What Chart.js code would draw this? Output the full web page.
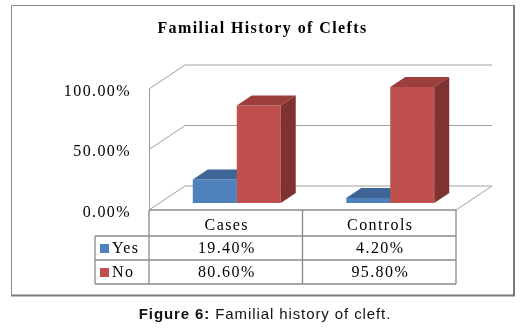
<!DOCTYPE html>
<html>
<head>
<meta charset="utf-8">
<script src="https://cdn.jsdelivr.net/npm/chart.js@4.4.1/dist/chart.umd.min.js"></script>
<style>
  html, body { margin: 0; padding: 0; background: #fff; }
  #wrap { position: relative; width: 521px; height: 336px; overflow: hidden; }
  #chart { position: absolute; left: 0; top: 0; }
  #caption {
    position: absolute; left: 0; top: 305px; width: 530px;
    text-align: center; color: #111;
    font: 15px "Liberation Sans", Arial, sans-serif; letter-spacing: 0.9px;
  }
</style>
</head>
<body>
<div id="wrap">
  <canvas id="chart" width="521" height="336"></canvas>
  <div id="caption"><b>Figure 6:</b> Familial history of cleft.</div>
</div>
<script>
// ---- data ----
const categories = ['Cases', 'Controls'];
const seriesNames = ['Yes', 'No'];
const yesValues = [19.4, 4.2];
const noValues = [80.6, 95.8];
const yTicks = [0, 50, 100];

// ---- styles ----
const SERIF = '"Liberation Serif", "Times New Roman", serif';
const frontColors = ['#4F81BD', '#C0504D'];
const topColors = ['#3E6596', '#9B3E3C'];
const sideColors = ['#385D8A', '#7E3231'];
const wallDepth = { dx: 36, dy: -24 };   // depth of walls and floor
const barShift = { dx: 11, dy: -7 };     // bars stand part-way into the box
const barDepth = { dx: 15, dy: -10 };    // depth of each bar
const rowHeights = [26, 24, 24];         // header row, then one row per series
const legendLeft = 95;

const fmt = v => v.toFixed(2) + '%';

function line(ctx, x1, y1, x2, y2) {
  ctx.beginPath(); ctx.moveTo(x1, y1); ctx.lineTo(x2, y2); ctx.stroke();
}
function poly(ctx, pts, color) {
  ctx.beginPath();
  ctx.moveTo(pts[0][0], pts[0][1]);
  for (let i = 1; i < pts.length; i++) ctx.lineTo(pts[i][0], pts[i][1]);
  ctx.closePath();
  ctx.fillStyle = color;
  ctx.fill();
}

const box3d = {
  id: 'box3d',
  beforeDraw(chart) {
    const ctx = chart.ctx;
    ctx.letterSpacing = '1.4px';
    ctx.save();
    ctx.fillStyle = '#fff';
    ctx.fillRect(0, 0, chart.width, chart.height);
    // frame with a heavier right/bottom edge
    ctx.strokeStyle = '#8d8d8d'; ctx.lineWidth = 1;
    line(ctx, 11.5, 5.5, 514, 5.5);
    line(ctx, 11.5, 5.5, 11.5, 296);
    ctx.strokeStyle = '#7a7a7a'; ctx.lineWidth = 2;
    line(ctx, 514, 5, 514, 296);
    line(ctx, 11, 295.5, 515, 295.5);
    ctx.restore();
  },
  beforeDatasetsDraw(chart) {
    const ctx = chart.ctx;
    const { left, right } = chart.chartArea;
    const y = chart.scales.y;
    const { dx, dy } = wallDepth;
    ctx.save();
    ctx.strokeStyle = '#a0a0a0'; ctx.lineWidth = 1;
    yTicks.forEach(v => {
      const py = y.getPixelForValue(v);
      line(ctx, left + dx, py + dy, right + dx, py + dy);   // back wall
      line(ctx, left, py, left + dx, py + dy);              // side wall
    });
    const y0 = y.getPixelForValue(0);
    const yTop = y.getPixelForValue(yTicks[yTicks.length - 1]);
    line(ctx, left + 0.5, yTop, left + 0.5, y0);
    line(ctx, right, y0, right + dx, y0 + dy);              // floor edge
    ctx.restore();

    // bars, painted left to right so each bar hides the side of its neighbour
    ctx.save();
    ctx.translate(barShift.dx, barShift.dy);
    const metas = chart.data.datasets.map((d, i) => chart.getDatasetMeta(i));
    categories.forEach((c, k) => {
      metas.forEach((meta, i) => {
        const bar = meta.data[k];
        bar.draw(ctx);
        const { x, y: top, base, width } = bar.getProps(['x', 'y', 'base', 'width'], true);
        const l = x - width / 2, r = x + width / 2;
        const { dx: bx, dy: by } = barDepth;
        poly(ctx, [[l, top], [r, top], [r + bx, top + by], [l + bx, top + by]], topColors[i]);
        poly(ctx, [[r, top], [r + bx, top + by], [r + bx, base + by], [r, base]], sideColors[i]);
      });
    });
    ctx.restore();
    return false;
  },
  afterDraw(chart) {
    // data table under the plot
    const ctx = chart.ctx;
    const { left, right } = chart.chartArea;
    const xs = chart.scales.x;
    const top = chart.scales.y.getPixelForValue(0);
    const rows = [top];
    rowHeights.forEach(h => rows.push(rows[rows.length - 1] + h));
    const half = (xs.getPixelForValue(1) - xs.getPixelForValue(0)) / 2;
    const cols = [left];
    categories.forEach((c, k) => cols.push(xs.getPixelForValue(k) + half));
    cols[cols.length - 1] = right;

    ctx.save();
    ctx.strokeStyle = '#8a8a8a'; ctx.lineWidth = 1.3;
    line(ctx, left, rows[0], right, rows[0]);
    for (let r = 1; r < rows.length; r++) line(ctx, legendLeft, rows[r], right, rows[r]);
    line(ctx, legendLeft, rows[1], legendLeft, rows[rows.length - 1]);
    cols.forEach(cx => line(ctx, cx, rows[0], cx, rows[rows.length - 1]));

    ctx.fillStyle = '#000';
    ctx.font = '16px ' + SERIF;
    ctx.textBaseline = 'middle';
    ctx.textAlign = 'center';
    const mid = r => (rows[r] + rows[r + 1]) / 2 + 1;
    categories.forEach((c, k) => ctx.fillText(c, xs.getPixelForValue(k) + 1, mid(0) + 2));
    const series = [yesValues, noValues];
    series.forEach((vals, s) => {
      vals.forEach((v, k) => ctx.fillText(fmt(v), xs.getPixelForValue(k) + 1, mid(s + 1)));
    });
    ctx.textAlign = 'left';
    seriesNames.forEach((name, s) => {
      const cy = mid(s + 1);
      ctx.fillStyle = frontColors[s];
      ctx.fillRect(legendLeft + 5, cy - 5, 9, 9);
      ctx.fillStyle = '#000';
      ctx.fillText(name, legendLeft + 17, cy);
    });
    ctx.restore();
  }
};

new Chart(document.getElementById('chart'), {
  type: 'bar',
  data: {
    labels: categories,
    datasets: [
      { label: seriesNames[0], data: yesValues, backgroundColor: frontColors[0] },
      { label: seriesNames[1], data: noValues, backgroundColor: frontColors[1] }
    ]
  },
  options: {
    responsive: false,
    animation: false,
    events: [],
    layout: { padding: { left: 4, right: 0, top: 0, bottom: 126 } },
    datasets: {
      bar: { categoryPercentage: 0.573, barPercentage: 1, borderWidth: 0 }
    },
    plugins: {
      legend: { display: false },
      tooltip: { enabled: false },
      title: {
        display: true,
        text: 'Familial History of Clefts',
        color: '#000',
        font: { family: SERIF, size: 16, weight: 'bold' },
        padding: { top: 19, bottom: 50.8 }
      }
    },
    scales: {
      x: { display: false },
      y: {
        min: 0, max: 100,
        afterBuildTicks: s => { s.ticks = yTicks.map(v => ({ value: v })); },
        afterFit: s => { s.width = 145; },
        grid: { display: false, drawTicks: false },
        border: { display: false },
        ticks: { padding: 18, labelOffset: 2.5, color: '#000', font: { family: SERIF, size: 16 }, callback: v => fmt(v) }
      },
      // reserves the space right of the plot where the box recedes in depth
      depthRoom: {
        position: 'right',
        afterFit: s => { s.width = 65; },
        grid: { display: false },
        border: { display: false },
        ticks: { display: false }
      }
    }
  },
  plugins: [box3d]
});
</script>
</body>
</html>
